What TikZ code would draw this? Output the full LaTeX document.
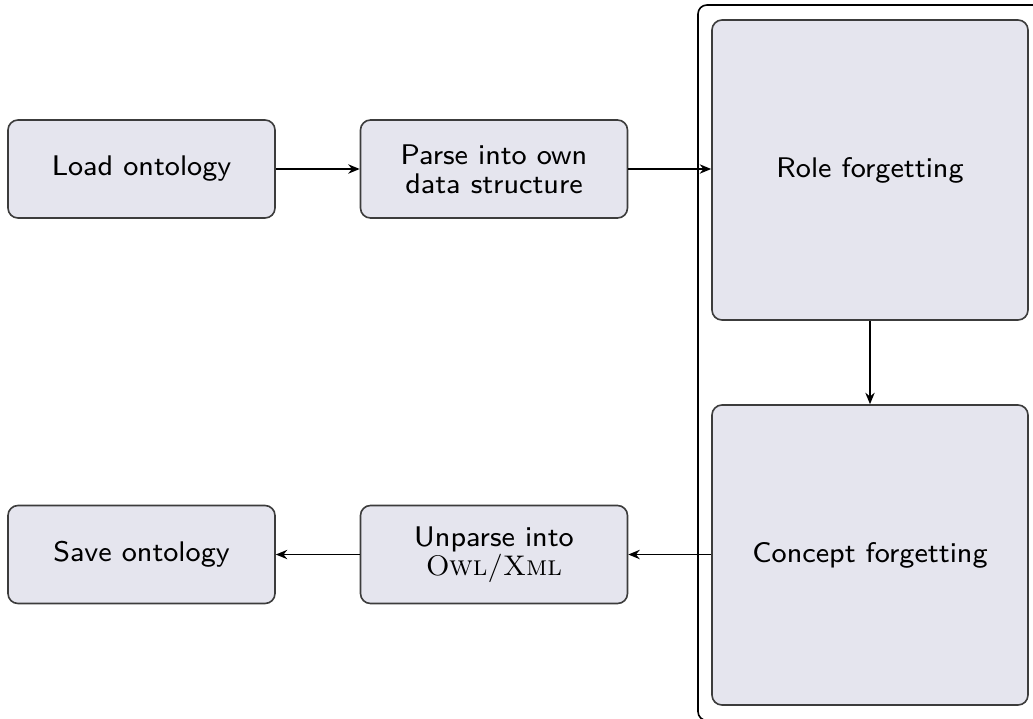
\documentclass[tikz,border=0pt]{standalone}
\usetikzlibrary{arrows.meta}
\definecolor{boxfill}{RGB}{229,229,238}
\definecolor{boxline}{RGB}{60,60,60}
\begin{document}
\begin{tikzpicture}[x=0.28pt,y=-0.28pt,
  box/.style={draw=boxline,fill=boxfill,rounded corners=2.8pt,line width=0.45pt,
    font=\fontsize{7.95}{8.0}\selectfont\sffamily,align=center,inner sep=0pt},
  small/.style={box,minimum width={267*0.28pt},minimum height={98*0.28pt}},
  big/.style={box,minimum width={316*0.28pt},minimum height={300*0.28pt}},
  conn/.style={line width=0.55pt,-{Stealth[length=3.2pt,width=2.6pt]}}]
\useasboundingbox (0,0) rectangle (1033,718);
\clip (0,0) rectangle (1033,718);
\draw[line width=0.45pt,rounded corners=2.5pt] (698,5) rectangle (1042,720.5);
\node[small] (load) at (141.5,169) {Load ontology};
\node[small] (parse) at (494,169) {Parse into own\\data structure};
\node[big] (role) at (870,170) {Role forgetting};
\node[big] (concept) at (870,555) {Concept forgetting};
\node[small] (unparse) at (494,554.5) {Unparse into\\\textrm{\textsc{Owl/Xml}}};
\node[small] (save) at (141.5,554.5) {Save ontology};
\draw[conn] (load) -- (parse);
\draw[conn] (parse.east) -- (parse.east -| role.west);
\draw[conn] (role) -- (concept);
\draw[conn] (concept.west |- unparse.east) -- (unparse.east);
\draw[conn] (unparse) -- (save);
\end{tikzpicture}
\end{document}
